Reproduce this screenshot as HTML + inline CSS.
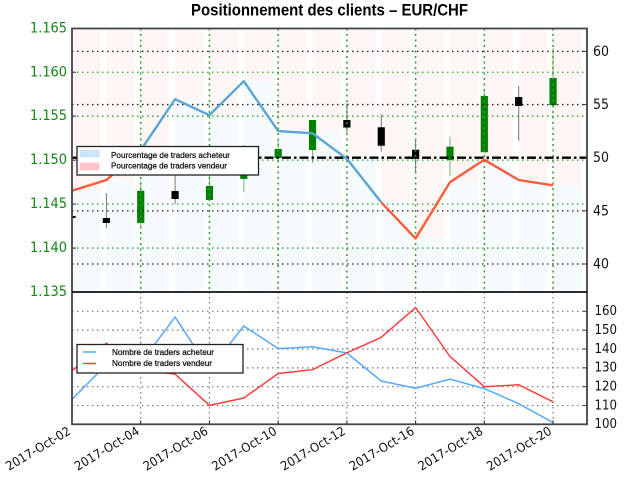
<!DOCTYPE html>
<html>
<head>
<meta charset="utf-8">
<style>
html,body{margin:0;padding:0;background:#fff;}
#chart{display:block;width:624px;height:478px;filter:blur(0.35px);}
text{font-family:"DejaVu Sans","Liberation Sans",sans-serif;}
.lg{font-family:"Liberation Sans",sans-serif;font-size:8.5px;fill:#111;stroke:#111;stroke-width:0.25px;}
</style>
</head>
<body>
<svg id="chart" xmlns="http://www.w3.org/2000/svg" width="624" height="478" viewBox="0 0 624 478">
  <defs>
    <clipPath id="clip-main"><rect x="72" y="28.5" width="515" height="263.5"></rect></clipPath>
    <clipPath id="clip-low"><rect x="72" y="292" width="515" height="132.3"></rect></clipPath>
  </defs>
  <rect width="624" height="478" fill="#fff"></rect>
  <text x="329.5" y="15.5" text-anchor="middle" textLength="277" lengthAdjust="spacingAndGlyphs" style="font-family:'Liberation Sans',sans-serif;font-size:17px;font-weight:bold;fill:#000">Positionnement des clients – EUR/CHF</text>
  <g id="main-bars" clip-path="url(#clip-main)"></g>
  <g id="main-candles" clip-path="url(#clip-main)"></g>
  <g id="main-grid" clip-path="url(#clip-main)"></g>
  <g id="main-lines" clip-path="url(#clip-main)"></g>
  <g id="low-grid" clip-path="url(#clip-low)"></g>
  <g id="low-lines" clip-path="url(#clip-low)"></g>
  <g id="spines"></g>
  <g id="labels"></g>

  <g>
    <rect x="77" y="146.5" width="181.5" height="28.5" fill="#fff" stroke="#222" stroke-width="1.3"></rect>
    <rect x="80" y="150" width="19" height="7" fill="#cfe4fb" stroke="#bcd8f8" stroke-width="0.5"></rect>
    <rect x="80" y="163" width="19" height="7" fill="#ffc4c4" stroke="#ffb4b4" stroke-width="0.5"></rect>
    <text class="lg" x="111" y="158" textLength="119" lengthAdjust="spacingAndGlyphs">Pourcentage de traders acheteur</text>
    <text class="lg" x="111" y="168.5" textLength="116" lengthAdjust="spacingAndGlyphs">Pourcentage de traders vendeur</text>
  </g>
  <g>
    <rect x="77" y="344.5" width="166" height="28.5" fill="#fff" stroke="#222" stroke-width="1.3"></rect>
    <line x1="83" x2="96" y1="352" y2="352" stroke="#55aaff" stroke-width="1.5"></line>
    <line x1="83" x2="96" y1="363.5" y2="363.5" stroke="#ff4040" stroke-width="1.5"></line>
    <text class="lg" x="112" y="355" textLength="102" lengthAdjust="spacingAndGlyphs">Nombre de traders acheteur</text>
    <text class="lg" x="112" y="366" textLength="100" lengthAdjust="spacingAndGlyphs">Nombre de traders vendeur</text>
  </g>
</svg>
<script>
const dates = ['2017-Oct-02','2017-Oct-03','2017-Oct-04','2017-Oct-05','2017-Oct-06','2017-Oct-09','2017-Oct-10','2017-Oct-11','2017-Oct-12','2017-Oct-13','2017-Oct-16','2017-Oct-17','2017-Oct-18','2017-Oct-19','2017-Oct-20'];
const priceOpen  = [1.14342,1.14342,1.14285,1.14649,1.14547,1.14786,1.15024,1.15115,1.15457,1.15374,1.15119,1.15002,1.1509,1.15718,1.15624];
const priceClose = [1.14365,1.14285,1.14652,1.14558,1.14706,1.14865,1.15127,1.15457,1.15371,1.15164,1.15016,1.15153,1.1573,1.15616,1.15935];
const priceHigh  = [1.14365,1.14626,1.1475,1.14831,1.1485,1.15172,1.15229,1.15457,1.1565,1.15522,1.15229,1.15267,1.15798,1.15844,1.16276];
const priceLow   = [1.14342,1.14228,1.1424,1.14501,1.14547,1.14638,1.15024,1.14968,1.15312,1.15096,1.14869,1.14823,1.1509,1.15221,1.15624];
const bullish    = [false,false,true,false,true,true,true,true,false,false,false,true,true,false,true];
const buyerPercent = [46.9,47.9,50.7,55.5,54.0,57.2,52.5,52.3,49.9,45.8,42.4,47.7,49.8,47.9,47.4];
const percentLineBlue = [null,null,50.7,55.5,54.0,57.2,52.5,52.3,49.9,45.8,null,null,null,null,null];
const percentLineRed  = [46.9,47.9,50.7,null,null,null,null,null,null,45.8,42.4,47.7,49.8,47.9,47.4];
const buyerCount  = [113.3,131.7,132.6,157,129,152.2,140.2,141.2,137.9,123,119.2,124,119,111,101];
const sellerCount = [128.5,143,129,126.7,110.1,114,127,129,138,146.2,162,136,120,121,112];
const priceTicks = [1.135,1.140,1.145,1.150,1.155,1.160,1.165];
const percentTicks = [40,45,50,55,60];
const countTicks = [100,110,120,130,140,150,160];
const referencePercent = 50;

const NS = 'http://www.w3.org/2000/svg';
const plotLeft = 72, plotRight = 587, plotTop = 28.5, mainBottom = 292, lowBottom = 424.3;
const slot = 34.36;
const xAt = i => plotLeft + i * slot;
const yPrice = p => mainBottom - (p - 1.135) * 8790;
const yPercent = v => 157.7 - (v - 50) * 10.63;
const yCount = v => 424.4 - (v - 100) * 1.885;

function mk(parent, tag, attrs, text) {
  const el = document.createElementNS(NS, tag);
  for (const k in attrs) el.setAttribute(k, attrs[k]);
  if (text !== undefined) el.textContent = text;
  document.getElementById(parent).appendChild(el);
  return el;
}
function pathFrom(values, yFn) {
  let d = '', pen = false;
  values.forEach((v, i) => {
    if (v === null) { pen = false; return; }
    d += (pen ? 'L' : 'M') + xAt(i).toFixed(1) + ' ' + yFn(v).toFixed(1);
    pen = true;
  });
  return d;
}
function tick(x1, y1, x2, y2) {
  const t = mk('spines', 'line', {x1: x1, y1: y1, x2: x2, y2: y2, stroke: '#333', 'stroke-width': 1});
  
  
}

/* percentage bars */
const barWidth = 28.4;
buyerPercent.forEach((v, i) => {
  const top = yPercent(v);
  const sell = mk('main-bars', 'rect', {x: xAt(i), y: 30, width: barWidth, height: Math.max(0, top - 30), fill: '#fef6f4'});
  
  
  const buy = mk('main-bars', 'rect', {x: xAt(i), y: top, width: barWidth, height: mainBottom - top, fill: '#f5fafd'});
  
  
});

/* candles */
dates.forEach((d, i) => {
  const col = bullish[i] ? '#008000' : '#000';
  const wick = mk('main-candles', 'line', {x1: xAt(i), x2: xAt(i), y1: yPrice(priceHigh[i]), y2: yPrice(priceLow[i]), stroke: bullish[i] ? '#6fb56f' : '#777', 'stroke-width': 1});
  
  
  const yA = yPrice(priceOpen[i]), yB = yPrice(priceClose[i]);
  const body = mk('main-candles', 'rect', {x: xAt(i) - 3.6, y: Math.min(yA, yB), width: 7.2, height: Math.abs(yA - yB), fill: col});
  
  
});

/* main grid */
priceTicks.forEach(t => {
  const g = mk('main-grid', 'line', {x1: plotLeft, x2: plotRight, y1: yPrice(t), y2: yPrice(t), stroke: '#2f9f2f', 'stroke-width': 1.3, 'stroke-dasharray': '1.5 3.5'});
  
  
  tick(plotLeft, yPrice(t), plotLeft + 4, yPrice(t));
});
percentTicks.filter(t => t !== referencePercent).forEach(t => {
  const g = mk('main-grid', 'line', {x1: plotLeft, x2: plotRight, y1: yPercent(t), y2: yPercent(t), stroke: '#222', 'stroke-width': 1.3, 'stroke-dasharray': '1.5 3.5'});
  
  
  tick(plotRight - 4, yPercent(t), plotRight, yPercent(t));
});
dates.forEach((d, i) => {
  if (i % 2 !== 0 || i === 0) return;
  const g = mk('main-grid', 'line', {x1: xAt(i), x2: xAt(i), y1: plotTop, y2: mainBottom, stroke: '#2f9f2f', 'stroke-width': 1.5, 'stroke-dasharray': '2 3.5'});
  
  
  const g2 = mk('low-grid', 'line', {x1: xAt(i), x2: xAt(i), y1: mainBottom, y2: lowBottom, stroke: '#777', 'stroke-width': 1.2, 'stroke-dasharray': '1.5 3.5'});
  
  
  tick(xAt(i), lowBottom - 4, xAt(i), lowBottom);
});
const ref = mk('main-grid', 'line', {x1: plotLeft, x2: plotRight, y1: yPercent(referencePercent), y2: yPercent(referencePercent), stroke: '#000', 'stroke-width': 2.4, 'stroke-dasharray': '9 3 2.5 3'});



/* percentage lines */
const pb = mk('main-lines', 'path', {d: pathFrom(percentLineBlue, yPercent), fill: 'none', stroke: '#5ba5d3', 'stroke-width': 2.4, 'stroke-linejoin': 'round'});


const pr = mk('main-lines', 'path', {d: pathFrom(percentLineRed, yPercent), fill: 'none', stroke: '#fb5c3c', 'stroke-width': 2.4, 'stroke-linejoin': 'round'});



/* lower panel */
countTicks.forEach(t => {
  const g = mk('low-grid', 'line', {x1: plotLeft, x2: plotRight, y1: yCount(t), y2: yCount(t), stroke: '#777', 'stroke-width': 1.2, 'stroke-dasharray': '1.5 3.5'});
  
  
  tick(plotRight - 4, yCount(t), plotRight, yCount(t));
  const lbl = mk('labels', 'text', {x: 594.5, y: yCount(t) + 3.8, 'font-size': 13, fill: '#111', textLength: 22.5, lengthAdjust: 'spacingAndGlyphs'}, String(t));
  
  
});
const lb = mk('low-lines', 'path', {d: pathFrom(buyerCount, yCount), fill: 'none', stroke: '#55aaff', 'stroke-width': 1.5});


const lr = mk('low-lines', 'path', {d: pathFrom(sellerCount, yCount), fill: 'none', stroke: '#ff4040', 'stroke-width': 1.5});



/* frame */
const frameMain = mk('spines', 'rect', {x: plotLeft, y: plotTop, width: plotRight - plotLeft, height: lowBottom - plotTop, fill: 'none', stroke: '#444', 'stroke-width': 1.8});


const divider = mk('spines', 'line', {x1: plotLeft, x2: plotRight, y1: mainBottom, y2: mainBottom, stroke: '#111', 'stroke-width': 1.8});



/* tick labels */
priceTicks.forEach(t => {
  const lbl = mk('labels', 'text', {x: 30, y: yPrice(t) + 4, 'font-size': 14, fill: '#128612', textLength: 37, lengthAdjust: 'spacingAndGlyphs'}, t.toFixed(3));
  
  
});
percentTicks.forEach(t => {
  const lbl = mk('labels', 'text', {x: 593, y: yPercent(t) + 4.5, 'font-size': 14, fill: '#111', textLength: 16, lengthAdjust: 'spacingAndGlyphs'}, String(t));
  
  
});
dates.forEach((d, i) => {
  if (i % 2 !== 0) return;
  const px = xAt(i) - 63;
  const py = 471;
  const lbl = mk('labels', 'text', {x: px, y: py, 'font-size': 12.5, fill: '#111', textLength: 73, lengthAdjust: 'spacingAndGlyphs', transform: 'rotate(-31 ' + px + ' ' + py + ')'}, d);
  
  
});
</script>
</body>
</html>
